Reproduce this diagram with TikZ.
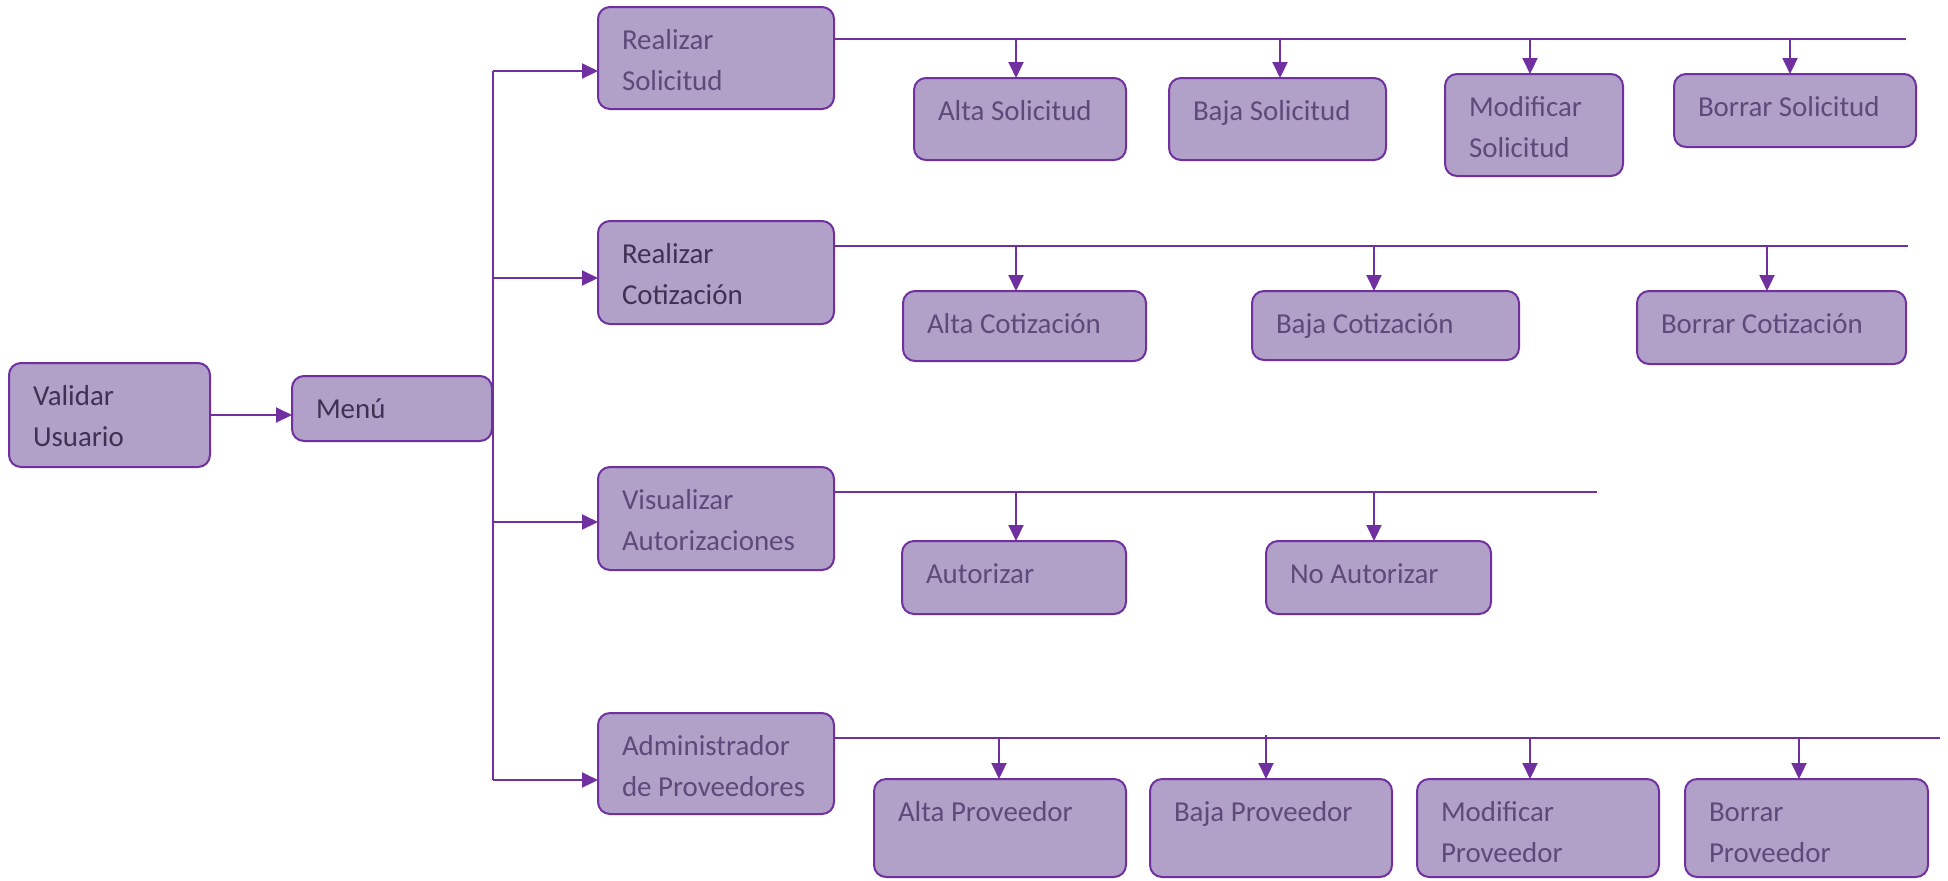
\documentclass[tikz,border=0pt]{standalone}
\usepackage{fontspec}
\setmainfont{Carlito}
\usetikzlibrary{arrows.meta,calc}
\definecolor{lin}{HTML}{7030A0}
\definecolor{fil}{HTML}{B1A0C7}
\definecolor{txa}{HTML}{5F497A}
\definecolor{txb}{HTML}{3F3151}
\tikzset{
  box/.style={draw=lin, fill=fil, line width=1bp, rounded corners=6bp, inner sep=0pt, outer sep=0pt},
  lbl/.style={anchor=base west, inner sep=0pt, outer sep=0pt, text=txa, font=\fontsize{14.5}{21}\selectfont},
  lbld/.style={lbl, text=txb},
  conn/.style={draw=lin, line width=1bp},
  arr/.style={conn, -{Triangle[length=8bp,width=7.5bp]}},
}
% box: name, x1, y1, x2, y2 (pixels), label style, text
\newcommand\bx[7]{%
  \node[box, minimum width={(#4-#2)*0.5bp}, minimum height={(#5-#3)*0.5bp}] (#1) at ({(#2+#4)/2},{(#3+#5)/2}) {};
  \node[#6] (#1-t) at ([shift={(24,42)}]#1.north west) {#7};
}
\newcommand\twoln[2]{\vtop{\hbox{#1}\hbox{#2}}}
% drop arrow: bus coordinate, target node, x offset in px, name
\newcommand\drop[4]{%
  \coordinate (#4) at ([xshift={#3*0.5bp}]#2.north);
  \draw[arr] (#4 |- #1) -- (#4);
}
\begin{document}
\begin{tikzpicture}[x=0.5bp,y=-0.5bp]
\useasboundingbox (0,0) rectangle (1948,880);

% left part
\bx{vu}{9}{363}{210}{467}{lbld}{\twoln{Validar}{Usuario}}
\bx{menu}{292}{376}{492}{441}{lbld}{Menú}

% parents
\bx{rs}{598}{7}{834}{109}{lbl}{\twoln{Realizar}{Solicitud}}
\bx{rc}{598}{221}{834}{324}{lbld}{\twoln{Realizar}{Cotización}}
\bx{va}{598}{467}{834}{570}{lbl}{\twoln{Visualizar}{Autorizaciones}}
\bx{ap}{598}{713}{834}{814}{lbl}{\twoln{Administrador}{de Proveedores}}

% row 1
\bx{as}{914}{78}{1126}{160}{lbl}{Alta Solicitud}
\bx{bs}{1169}{78}{1386}{160}{lbl}{Baja Solicitud}
\bx{ms}{1445}{74}{1623}{176}{lbl}{\twoln{Modificar}{Solicitud}}
\bx{bos}{1674}{74}{1916}{147}{lbl}{Borrar Solicitud}

% row 2
\bx{ac}{903}{291}{1146}{361}{lbl}{Alta Cotización}
\bx{bc}{1252}{291}{1519}{360}{lbl}{Baja Cotización}
\bx{boc}{1637}{291}{1906}{364}{lbl}{Borrar Cotización}

% row 3
\bx{au}{902}{541}{1126}{614}{lbl}{Autorizar}
\bx{nau}{1266}{541}{1491}{614}{lbl}{No Autorizar}

% row 4
\bx{apv}{874}{779}{1126}{877}{lbl}{Alta Proveedor}
\bx{bpv}{1150}{779}{1392}{877}{lbl}{Baja Proveedor}
\bx{mpv}{1417}{779}{1659}{877}{lbl}{\twoln{Modificar}{Proveedor}}
\bx{bopv}{1685}{779}{1928}{877}{lbl}{\twoln{Borrar}{Proveedor}}

% Validar -> Menu
\draw[arr] (vu.east) -- (menu.west |- vu.east);

% trunk
\coordinate (t1) at (493,71);
\coordinate (t2) at (493,278);
\coordinate (t3) at (493,522);
\coordinate (t4) at (493,780);
\draw[conn] (t1) -- (t4);
\draw[arr] (t1) -- (rs.west |- t1);
\draw[arr] (t2) -- (rc.west |- t2);
\draw[arr] (t3) -- (va.west |- t3);
\draw[arr] (t4) -- (ap.west |- t4);

% buses
\coordinate (b1) at (1906,39);
\coordinate (b2) at (1908,246);
\coordinate (b3) at (1597,492);
\coordinate (b4) at (1940,738);
\coordinate (b4a) at (1266,735);
\draw[conn] (rs.east |- b1) -- (b1);
\draw[conn] (rc.east |- b2) -- (b2);
\draw[conn] (va.east |- b3) -- (b3);
\draw[conn] (ap.east |- b4) -- (b4);

% drops
\drop{b1}{as}{-4}{d11}
\drop{b1}{bs}{2.5}{d12}
\drop{b1}{ms}{-4}{d13}
\drop{b1}{bos}{-5}{d14}
\drop{b2}{ac}{-8.5}{d21}
\drop{b2}{bc}{-11.5}{d22}
\drop{b2}{boc}{-4.5}{d23}
\drop{b3}{au}{2}{d31}
\drop{b3}{nau}{-4.5}{d32}
\drop{b4}{apv}{-1}{d41}
\drop{b4a}{bpv}{-5}{d42}
\drop{b4}{mpv}{-8}{d43}
\drop{b4}{bopv}{-7.5}{d44}
\end{tikzpicture}
\end{document}
